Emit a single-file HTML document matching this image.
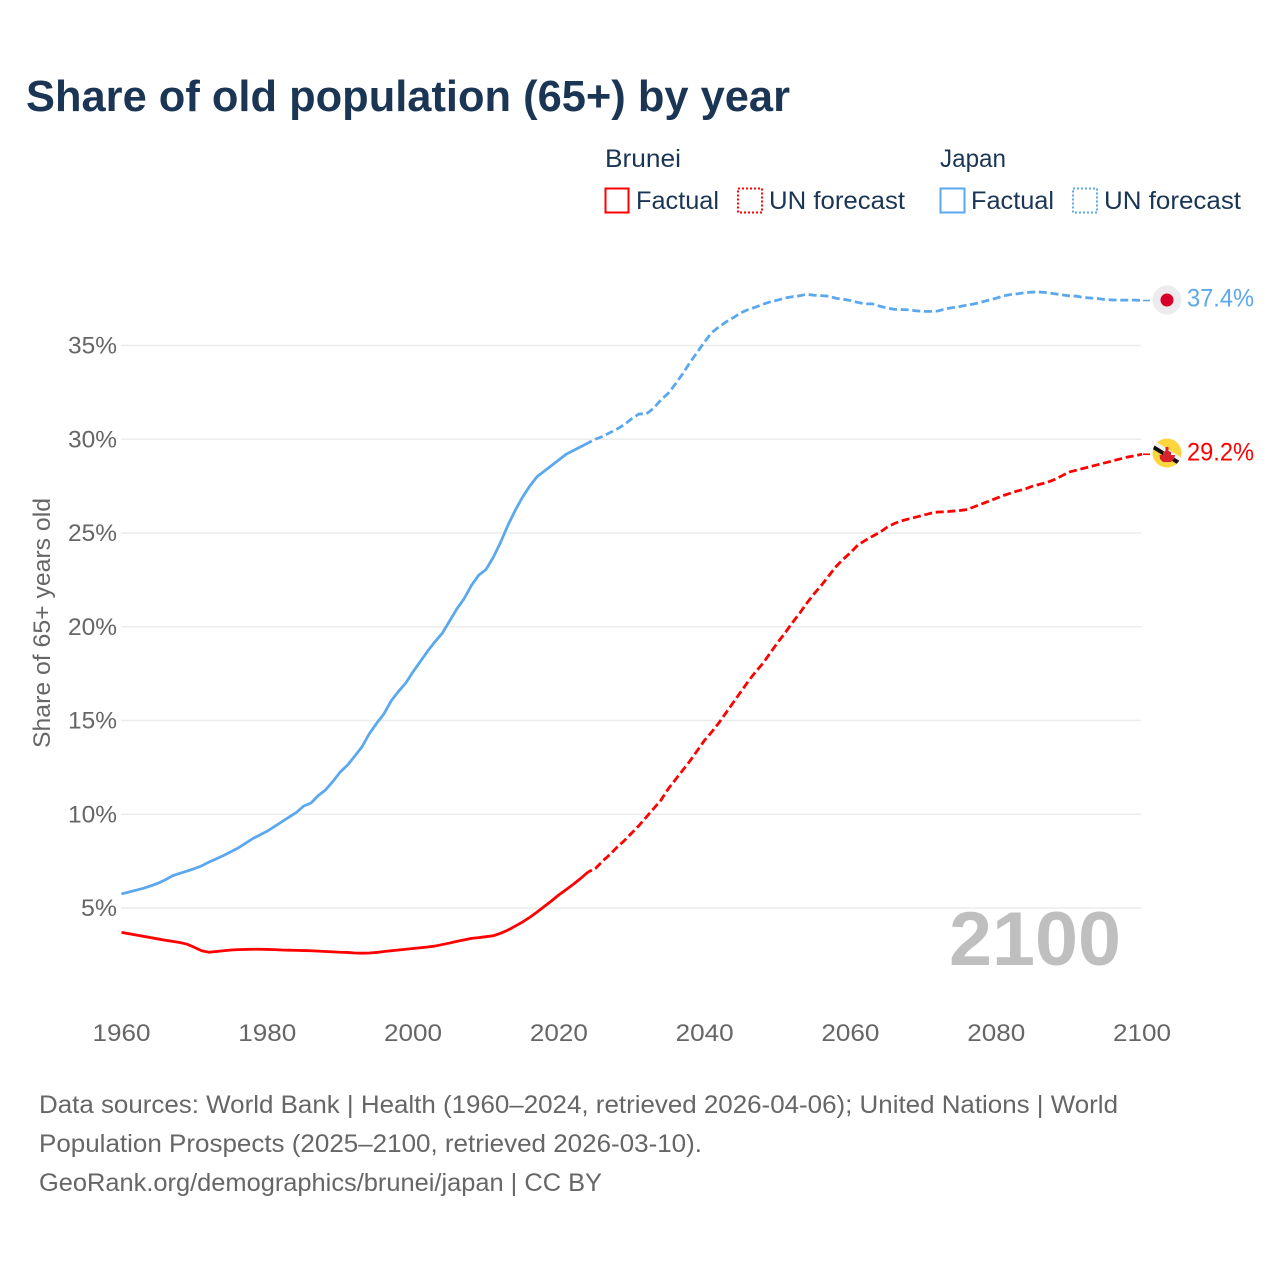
<!DOCTYPE html>
<html lang="en">
<head>
<meta charset="utf-8">
<title>Share of old population (65+) by year</title>
<style>
html,body{margin:0;padding:0;background:#fff;width:1280px;height:1280px;overflow:hidden}
svg{display:block}
text{font-family:"Liberation Sans",sans-serif}
</style>
</head>
<body>
<svg id="chart" xmlns="http://www.w3.org/2000/svg" width="1280" height="1280" viewBox="0 0 1280 1280">
  <defs>
    <clipPath id="flag-clip-bn"><circle cx="1167" cy="453" r="14.5"/></clipPath>
  </defs>
  <rect width="1280" height="1280" fill="#fff"/>
  <text x="26" y="111" font-size="44" font-weight="700" fill="#1b3555" textLength="764" lengthAdjust="spacingAndGlyphs">Share of old population (65+) by year</text>

  <g font-size="25" fill="#1b3555">
    <text x="605" y="167" textLength="76" lengthAdjust="spacingAndGlyphs">Brunei</text>
    <text x="940" y="167" textLength="66" lengthAdjust="spacingAndGlyphs">Japan</text>
    <rect x="605.5" y="188.5" width="23" height="24" fill="none" stroke="#ff0000" stroke-width="2"/>
    <text x="636" y="209" textLength="83" lengthAdjust="spacingAndGlyphs">Factual</text>
    <rect x="738" y="188.5" width="24" height="24" fill="none" stroke="#ff0000" stroke-width="2" stroke-dasharray="2 2"/>
    <text x="769" y="209" textLength="136" lengthAdjust="spacingAndGlyphs">UN forecast</text>
    <rect x="940.5" y="188.5" width="24" height="24" fill="none" stroke="#5ba8ee" stroke-width="2"/>
    <text x="971" y="209" textLength="83" lengthAdjust="spacingAndGlyphs">Factual</text>
    <rect x="1073" y="188.5" width="24" height="24" fill="none" stroke="#5ba8ee" stroke-width="2" stroke-dasharray="2 2"/>
    <text x="1104" y="209" textLength="137" lengthAdjust="spacingAndGlyphs">UN forecast</text>
  </g>

  <g id="grid"></g>
  <g id="y-ticks"></g>
  <g id="x-ticks"></g>
  <text transform="translate(50,748) rotate(-90)" font-size="24" fill="#666" textLength="250" lengthAdjust="spacingAndGlyphs">Share of 65+ years old</text>
  <text x="949" y="965" font-size="76" font-weight="700" fill="#bfbfbf" textLength="172" lengthAdjust="spacingAndGlyphs">2100</text>
  <g id="series"></g>

  <g id="flag-japan"></g>
  <g id="flag-brunei"></g>

  <g font-size="25" fill="#666">
    <text x="39" y="1113" textLength="1079" lengthAdjust="spacingAndGlyphs">Data sources: World Bank | Health (1960–2024, retrieved 2026-04-06); United Nations | World</text>
    <text x="39" y="1152" textLength="663" lengthAdjust="spacingAndGlyphs">Population Prospects (2025–2100, retrieved 2026-03-10).</text>
    <text x="39" y="1191" textLength="563" lengthAdjust="spacingAndGlyphs">GeoRank.org/demographics/brunei/japan | CC BY</text>
  </g>
</svg>
<script>
const firstYear = 1960;
const xTickYears = [1960, 1980, 2000, 2020, 2040, 2060, 2080, 2100];
const yTickValues = [5, 10, 15, 20, 25, 30, 35];

// Share of population aged 65+, one value per year, starting 1960
const japanFactual = [5.75,5.85,5.95,6.05,6.18,6.32,6.5,6.72,6.85,6.97,7.1,7.25,7.45,7.62,7.8,8.0,8.2,8.45,8.7,8.9,9.1,9.35,9.6,9.85,10.1,10.44,10.6,11.0,11.3,11.75,12.25,12.62,13.1,13.6,14.3,14.85,15.35,16.05,16.55,17.0,17.6,18.15,18.7,19.2,19.65,20.3,20.95,21.5,22.2,22.75,23.05,23.7,24.5,25.4,26.2,26.9,27.5,28.0,28.3,28.6,28.9,29.2,29.4,29.6,29.8];
const bruneiFactual = [3.7,3.63,3.56,3.49,3.42,3.35,3.28,3.22,3.16,3.07,2.9,2.72,2.64,2.68,2.72,2.76,2.78,2.79,2.8,2.8,2.79,2.78,2.76,2.75,2.74,2.73,2.72,2.7,2.68,2.66,2.64,2.63,2.6,2.59,2.6,2.63,2.68,2.72,2.76,2.8,2.84,2.88,2.92,2.97,3.05,3.13,3.22,3.3,3.38,3.42,3.47,3.52,3.65,3.82,4.03,4.25,4.5,4.78,5.08,5.38,5.7,5.98,6.27,6.58,6.92];

// UN forecast, one value per year, starting 2024 so it joins the factual line
const forecastStartYear = 2024;
const japanForecast = [29.8,30.0,30.15,30.35,30.55,30.78,31.1,31.35,31.35,31.65,32.1,32.45,32.95,33.5,34.1,34.65,35.2,35.7,36.0,36.27,36.5,36.75,36.92,37.05,37.2,37.33,37.42,37.53,37.6,37.65,37.73,37.68,37.66,37.63,37.52,37.47,37.4,37.3,37.22,37.22,37.1,37.0,36.93,36.92,36.9,36.85,36.82,36.82,36.84,36.95,37.02,37.08,37.15,37.22,37.32,37.42,37.52,37.65,37.72,37.76,37.82,37.85,37.85,37.82,37.76,37.7,37.65,37.63,37.56,37.53,37.5,37.45,37.43,37.42,37.42,37.42,37.4];
const bruneiForecast = [6.92,7.1,7.5,7.85,8.25,8.6,9.0,9.4,9.85,10.3,10.75,11.35,11.85,12.35,12.85,13.4,13.95,14.4,14.9,15.45,16.0,16.55,17.1,17.6,18.05,18.6,19.15,19.65,20.2,20.7,21.25,21.75,22.2,22.7,23.2,23.6,23.95,24.35,24.6,24.82,25.03,25.3,25.5,25.65,25.75,25.85,25.95,26.05,26.12,26.13,26.17,26.2,26.25,26.4,26.55,26.7,26.85,27.0,27.13,27.25,27.35,27.5,27.6,27.7,27.85,28.05,28.25,28.35,28.45,28.55,28.65,28.75,28.85,28.95,29.05,29.12,29.2];

const SVGNS = 'http://www.w3.org/2000/svg';
const RED = '#ff0000';
const BLUE = '#5ba8ee';

function xScale(year) { return 121.5 + (year - 1960) * (1020.5 / 140); }
function yScale(v) { return 908 - (v - 5) * 18.75; }

function make(tag, attrs, parent, txt) {
  const el = document.createElementNS(SVGNS, tag);
  for (const k in attrs) el.setAttribute(k, attrs[k]);
  if (txt !== undefined) el.textContent = txt;
  parent.appendChild(el);
  return el;
}
function linePath(values, startYear) {
  return values.map(function (v, i) {
    return (i ? 'L' : 'M') + xScale(startYear + i).toFixed(2) + ' ' + yScale(v).toFixed(2);
  }).join('');
}

const grid = document.getElementById('grid');
const yTicks = document.getElementById('y-ticks');
const xTicks = document.getElementById('x-ticks');
const series = document.getElementById('series');

yTickValues.forEach(function (v) {
  const gl = make('line', {x1: 121, x2: 1141, y1: yScale(v), y2: yScale(v), stroke: '#ececec', 'stroke-width': 1.5}, grid);
  
  
  const t = make('text', {x: 117, y: yScale(v) + 8, 'text-anchor': 'end', 'font-size': 24, fill: '#666', textLength: v < 10 ? 36 : 49, lengthAdjust: 'spacingAndGlyphs'}, yTicks, v + '%');
  
  
});

xTickYears.forEach(function (yr) {
  const t = make('text', {x: xScale(yr), y: 1041, 'text-anchor': 'middle', 'font-size': 24, fill: '#666', textLength: 58, lengthAdjust: 'spacingAndGlyphs'}, xTicks, String(yr));
  
  
});

const base = {fill: 'none', 'stroke-width': 2.8, 'stroke-linejoin': 'round'};

const jf = make('path', Object.assign({d: linePath(japanFactual, firstYear), stroke: BLUE}, base), series);



const bf = make('path', Object.assign({d: linePath(bruneiFactual, firstYear), stroke: RED}, base), series);



const jp = make('path', Object.assign({d: linePath(japanForecast, forecastStartYear), stroke: BLUE, 'stroke-dasharray': '8 3.7', 'stroke-dashoffset': -8}, base), series);



const bp = make('path', Object.assign({d: linePath(bruneiForecast, forecastStartYear), stroke: RED, 'stroke-dasharray': '8 3.7', 'stroke-dashoffset': -8}, base), series);



const lastYear = forecastStartYear + japanForecast.length - 1;
const lastX = xScale(lastYear);
const jLast = japanForecast[japanForecast.length - 1];
const bLast = bruneiForecast[bruneiForecast.length - 1];

const jl = make('line', {x1: lastX + 1, x2: lastX + 8, y1: yScale(jLast), y2: yScale(jLast), stroke: BLUE, 'stroke-width': 1.6}, series);


const bl = make('line', {x1: lastX + 1, x2: lastX + 8, y1: yScale(bLast), y2: yScale(bLast), stroke: RED, 'stroke-width': 1.6}, series);



const jv = make('text', {x: 1187, y: yScale(jLast) + 6, 'font-size': 25, fill: BLUE, textLength: 67, lengthAdjust: 'spacingAndGlyphs'}, series, jLast.toFixed(1) + '%');


const bv = make('text', {x: 1187, y: yScale(bLast) + 6, 'font-size': 25, fill: RED, textLength: 67, lengthAdjust: 'spacingAndGlyphs'}, series, bLast.toFixed(1) + '%');



// Flags
const fj = document.getElementById('flag-japan');
make('circle', {cx: 1167, cy: 300, r: 14.5, fill: '#ececee'}, fj);
make('circle', {cx: 1167, cy: 300, r: 6.5, fill: '#d8002a'}, fj);

const fb = document.getElementById('flag-brunei');
make('circle', {cx: 1167, cy: 453, r: 14.5, fill: '#fdd53c'}, fb);
const clipG = make('g', {'clip-path': 'url(#flag-clip-bn)'}, fb);
make('line', {x1: 1150, y1: 441, x2: 1184, y2: 462, stroke: '#f2f2f2', 'stroke-width': 5}, clipG);
make('line', {x1: 1150, y1: 445, x2: 1184, y2: 466, stroke: '#111', 'stroke-width': 4}, clipG);
make('path', {d: 'M1165.5 447 L1168.5 447 L1168.5 451 L1171 452 L1171 455 L1175 455 L1174 459 L1171 462 L1163 462 L1160 459 L1159.5 455 L1163 455 L1163 452 L1165.5 451 Z', fill: '#d8222a'}, fb);
</script>
</body>
</html>
